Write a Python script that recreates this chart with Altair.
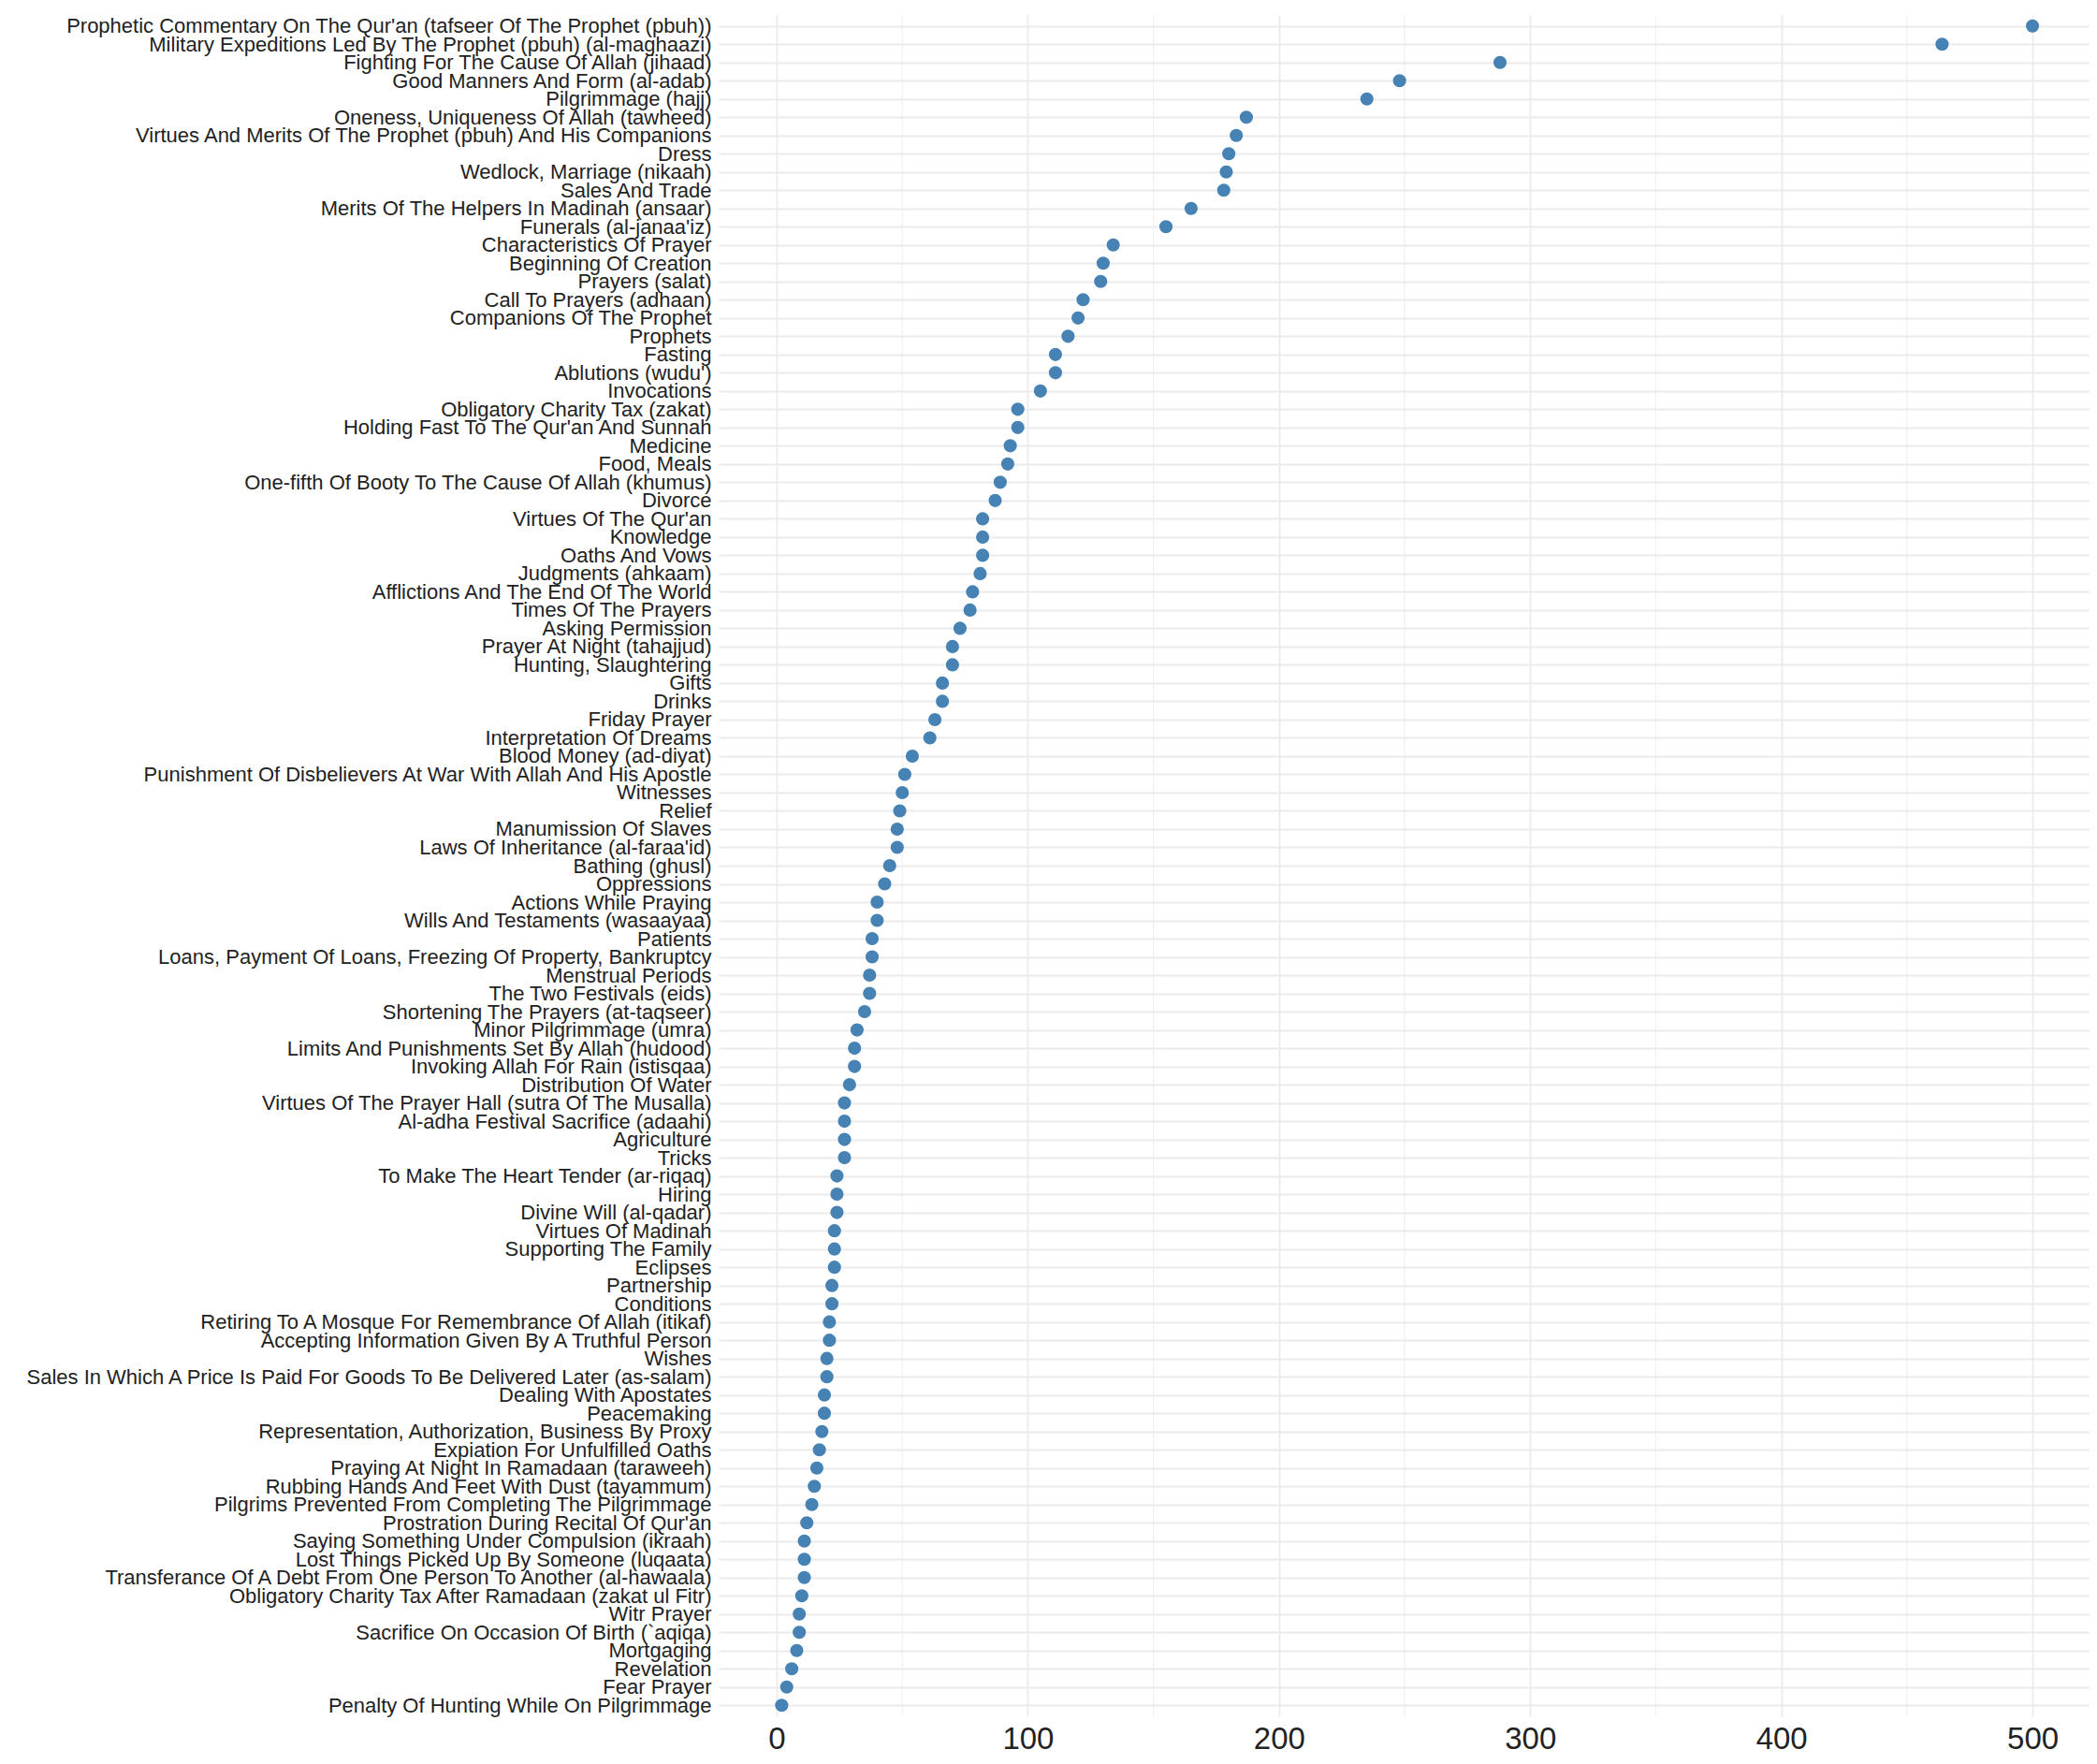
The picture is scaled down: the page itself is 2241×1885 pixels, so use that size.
import altair as alt
import pandas as pd

categories = [
    "Prophetic Commentary On The Qur'an (tafseer Of The Prophet (pbuh))",
    "Military Expeditions Led By The Prophet (pbuh) (al-maghaazi)",
    "Fighting For The Cause Of Allah (jihaad)",
    "Good Manners And Form (al-adab)",
    "Pilgrimmage (hajj)",
    "Oneness, Uniqueness Of Allah (tawheed)",
    "Virtues And Merits Of The Prophet (pbuh) And His Companions",
    "Dress",
    "Wedlock, Marriage (nikaah)",
    "Sales And Trade",
    "Merits Of The Helpers In Madinah (ansaar)",
    "Funerals (al-janaa'iz)",
    "Characteristics Of Prayer",
    "Beginning Of Creation",
    "Prayers (salat)",
    "Call To Prayers (adhaan)",
    "Companions Of The Prophet",
    "Prophets",
    "Fasting",
    "Ablutions (wudu')",
    "Invocations",
    "Obligatory Charity Tax (zakat)",
    "Holding Fast To The Qur'an And Sunnah",
    "Medicine",
    "Food, Meals",
    "One-fifth Of Booty To The Cause Of Allah (khumus)",
    "Divorce",
    "Virtues Of The Qur'an",
    "Knowledge",
    "Oaths And Vows",
    "Judgments (ahkaam)",
    "Afflictions And The End Of The World",
    "Times Of The Prayers",
    "Asking Permission",
    "Prayer At Night (tahajjud)",
    "Hunting, Slaughtering",
    "Gifts",
    "Drinks",
    "Friday Prayer",
    "Interpretation Of Dreams",
    "Blood Money (ad-diyat)",
    "Punishment Of Disbelievers At War With Allah And His Apostle",
    "Witnesses",
    "Relief",
    "Manumission Of Slaves",
    "Laws Of Inheritance (al-faraa'id)",
    "Bathing (ghusl)",
    "Oppressions",
    "Actions While Praying",
    "Wills And Testaments (wasaayaa)",
    "Patients",
    "Loans, Payment Of Loans, Freezing Of Property, Bankruptcy",
    "Menstrual Periods",
    "The Two Festivals (eids)",
    "Shortening The Prayers (at-taqseer)",
    "Minor Pilgrimmage (umra)",
    "Limits And Punishments Set By Allah (hudood)",
    "Invoking Allah For Rain (istisqaa)",
    "Distribution Of Water",
    "Virtues Of The Prayer Hall (sutra Of The Musalla)",
    "Al-adha Festival Sacrifice (adaahi)",
    "Agriculture",
    "Tricks",
    "To Make The Heart Tender (ar-riqaq)",
    "Hiring",
    "Divine Will (al-qadar)",
    "Virtues Of Madinah",
    "Supporting The Family",
    "Eclipses",
    "Partnership",
    "Conditions",
    "Retiring To A Mosque For Remembrance Of Allah (itikaf)",
    "Accepting Information Given By A Truthful Person",
    "Wishes",
    "Sales In Which A Price Is Paid For Goods To Be Delivered Later (as-salam)",
    "Dealing With Apostates",
    "Peacemaking",
    "Representation, Authorization, Business By Proxy",
    "Expiation For Unfulfilled Oaths",
    "Praying At Night In Ramadaan (taraweeh)",
    "Rubbing Hands And Feet With Dust (tayammum)",
    "Pilgrims Prevented From Completing The Pilgrimmage",
    "Prostration During Recital Of Qur'an",
    "Saying Something Under Compulsion (ikraah)",
    "Lost Things Picked Up By Someone (luqaata)",
    "Transferance Of A Debt From One Person To Another (al-hawaala)",
    "Obligatory Charity Tax After Ramadaan (zakat ul Fitr)",
    "Witr Prayer",
    "Sacrifice On Occasion Of Birth (`aqiqa)",
    "Mortgaging",
    "Revelation",
    "Fear Prayer",
    "Penalty Of Hunting While On Pilgrimmage",
]

counts = [
    500, 464, 288, 248, 235, 187, 183, 180, 179, 178,
    165, 155, 134, 130, 129, 122, 120, 116, 111, 111,
    105, 96, 96, 93, 92, 89, 87, 82, 82, 82,
    81, 78, 77, 73, 70, 70, 66, 66, 63, 61,
    54, 51, 50, 49, 48, 48, 45, 43, 40, 40,
    38, 38, 37, 37, 35, 32, 31, 31, 29, 27,
    27, 27, 27, 24, 24, 24, 23, 23, 23, 22,
    22, 21, 21, 20, 20, 19, 19, 18, 17, 16,
    15, 14, 12, 11, 11, 11, 10, 9, 9, 8,
    6, 4, 2,
]

major_ticks = [0, 100, 200, 300, 400, 500]
minor_ticks = [50, 150, 250, 350, 450]

assert len(categories) == len(counts)

df = pd.DataFrame({"topic": categories, "count": counts})
minor_df = pd.DataFrame({"count": minor_ticks})

FONT = "Liberation Sans"
GRID = "#EBEBEB"

xscale = alt.Scale(domain=[-23.1, 522.7], nice=False, zero=False)
xaxis = alt.Axis(
    values=major_ticks, title=None, grid=True, gridColor=GRID, gridWidth=1.8,
    domain=False, ticks=False, labelFont=FONT, labelFontSize=33,
    labelColor="#222222", labelPadding=8,
)

minor = alt.Chart(minor_df).mark_rule(color=GRID, strokeWidth=0.9).encode(
    x=alt.X("count:Q", scale=xscale, axis=xaxis)
)

points = alt.Chart(df).mark_circle(size=200, color="#4682B4", opacity=1).encode(
    x=alt.X("count:Q", scale=xscale, axis=xaxis),
    y=alt.Y(
        "topic:N", sort=categories, scale=alt.Scale(padding=0.6),
        axis=alt.Axis(
            title=None, grid=True, gridColor=GRID, gridWidth=1.8, domain=False,
            ticks=False, labelFont=FONT, labelFontSize=22, labelColor="#222222",
            labelLimit=0, labelOverlap=False, labelPadding=8,
        ),
    ),
)

chart = alt.layer(minor, points).properties(
    width=1465, height=1818,
    autosize=alt.AutoSizeParams(type="none"),
    padding={"left": 760, "top": 8, "right": 0, "bottom": 43},
).configure_view(stroke=None)

chart.save("out.html", embed_options={"renderer": "svg", "actions": False})
